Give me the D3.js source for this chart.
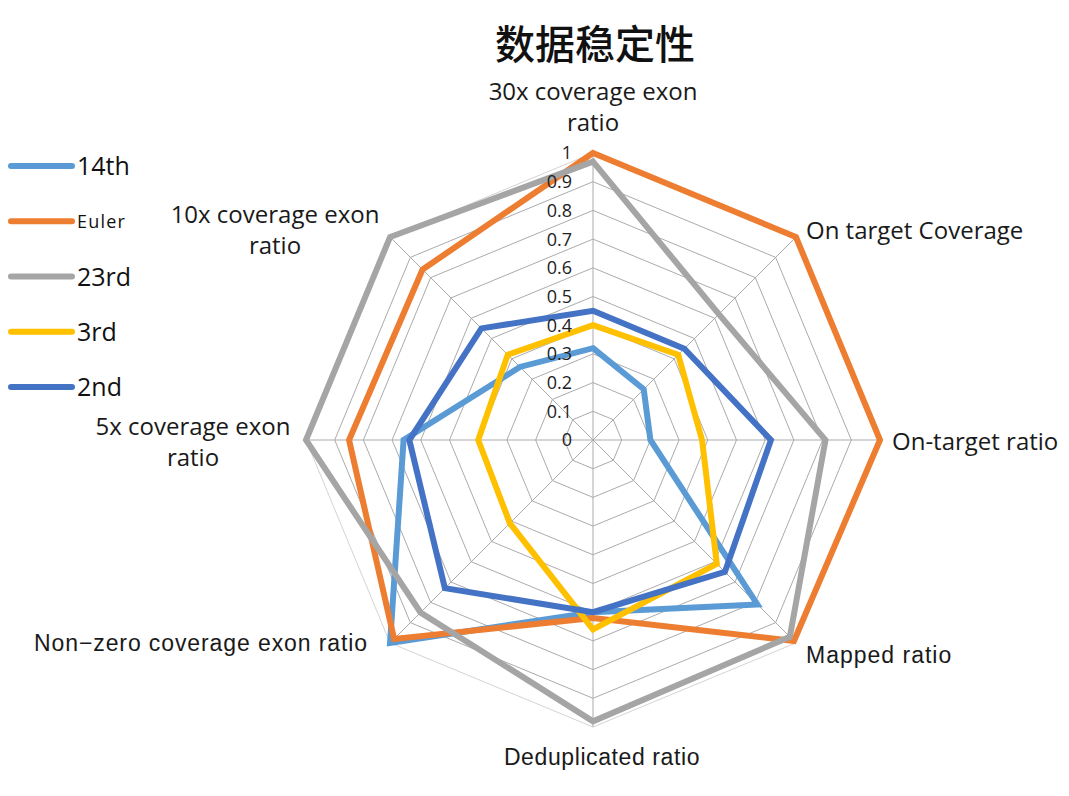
<!DOCTYPE html>
<html><head><meta charset="utf-8">
<script src="https://cdn.jsdelivr.net/npm/d3@7/dist/d3.min.js"></script>
<style>body{margin:0;background:#fff}</style>
</head><body><svg id="c" width="1069" height="796"></svg>
<script>
const axes = ["30x coverage exon ratio","On target Coverage","On-target ratio","Mapped ratio","Deduplicated ratio","Non\u2212zero coverage exon ratio","5x coverage exon ratio","10x coverage exon ratio"];
const seriesNames = ["14th","Euler","23rd","3rd","2nd"];
const colors = ["#5B9BD5","#ED7D31","#A5A5A5","#FFC000","#4472C4"];
const v14th  = [0.32,0.25,0.20,0.81,0.60,1.00,0.66,0.36];
const vEuler = [1.00,1.00,1.00,0.99,0.62,0.98,0.85,0.84];
const v23rd  = [0.97,0.62,0.81,0.97,0.98,0.85,1.00,1.00];
const v3rd   = [0.40,0.42,0.38,0.61,0.66,0.41,0.40,0.42];
const v2nd   = [0.45,0.45,0.62,0.65,0.60,0.73,0.64,0.55];
const values = [v14th,vEuler,v23rd,v3rd,v2nd];
const ticks = [0,0.1,0.2,0.3,0.4,0.5,0.6,0.7,0.8,0.9,1];
const tickLabels = ["0","0.1","0.2","0.3","0.4","0.5","0.6","0.7","0.8","0.9","1"];

const svg = d3.select("#c");
const cx = 593, cy = 440;
const r = d3.scaleLinear().domain([0,1]).range([0,287]);
const ang = d3.scalePoint().domain(d3.range(axes.length+1)).range([0,2*Math.PI]);
const pt = (i,v)=>[cx + r(v)*Math.sin(ang(i)), cy - r(v)*Math.cos(ang(i))];

const g = svg.append("g");
ticks.slice(1).forEach((t)=>{
  g.append("polygon")
    .attr("points", axes.map((a,i)=>pt(i,t).join(",")).join(" "))
    .attr("fill","none")
    .attr("stroke", t===1 ? "#C8C8C8" : "#ABABAB")
    .attr("stroke-width", t===1 ? 0.8 : 1);
});
axes.forEach((a,i)=>{
  const p = pt(i,1);
  g.append("line").attr("x1",cx).attr("y1",cy).attr("x2",p[0]).attr("y2",p[1])
    .attr("stroke","#ABABAB").attr("stroke-width",1);
});
const line = d3.line().curve(d3.curveLinearClosed);
values.forEach((vals,s)=>{
  svg.append("path")
    .attr("d", line(vals.map((v,i)=>pt(i,v))))
    .attr("fill","none").attr("stroke",colors[s]).attr("stroke-width",6)
    .attr("stroke-linejoin","miter");
});
svg.append("g").selectAll("text").data(ticks).join("text")
  .attr("x", cx-21).attr("y", d=>cy - r(d)).attr("dy","0.36em")
  .attr("text-anchor","end")
  .attr("font-family","'Open Sans', sans-serif").attr("font-size",18).attr("fill","#222")
  .text((d,i)=>tickLabels[i]);

const OS = "'Open Sans', sans-serif", AR = "'Liberation Sans', Arial, sans-serif";
const lab = [
  {lines:["30x coverage exon","ratio"], x:593, y:92, anchor:"middle", f:OS, ls:0},
  {lines:["On target Coverage"], x:806, y:231, anchor:"start", f:OS, ls:0},
  {lines:["On-target ratio"], x:892, y:442, anchor:"start", f:OS, ls:0},
  {lines:["Mapped ratio"], x:806, y:655, anchor:"start", f:AR, ls:1},
  {lines:["Deduplicated ratio"], x:602, y:757, anchor:"middle", f:AR, ls:0.6},
  {lines:["Non\u2212zero coverage exon ratio"], x:368, y:643, anchor:"end", f:AR, ls:0.9},
  {lines:["5x coverage exon","ratio"], x:193, y:427, anchor:"middle", f:OS, ls:0},
  {lines:["10x coverage exon","ratio"], x:275, y:215, anchor:"middle", f:OS, ls:0}
];
lab.forEach((L)=>{
  L.lines.forEach((t,j)=>{
    svg.append("text").attr("x",L.x).attr("y",L.y + j*30.5).attr("dy","0.35em")
      .attr("text-anchor",L.anchor).attr("font-family",L.f)
      .attr("font-size", L.f===OS ? 24 : 23).attr("letter-spacing", L.ls)
      .attr("fill","#1a1a1a").text(t);
  });
});

svg.append("text").attr("x",595).attr("y",45).attr("dy","0.36em").attr("text-anchor","middle")
  .attr("font-family","'Noto Sans CJK SC', sans-serif").attr("font-size",40).attr("font-weight",500)
  .attr("fill","#111").text("数据稳定性");

const ly = d3.scalePoint().domain(seriesNames).range([166,387]);
const lg = svg.append("g");
seriesNames.forEach((n,s)=>{
  lg.append("line").attr("x1",11).attr("x2",72).attr("y1",ly(n)).attr("y2",ly(n))
    .attr("stroke",colors[s]).attr("stroke-width",6).attr("stroke-linecap","round");
  lg.append("text").attr("x",77).attr("y",ly(n)).attr("dy","0.36em")
    .attr("font-family",OS).attr("font-size", n==="Euler"?18:25)
    .attr("letter-spacing", n==="Euler"?1.2:0)
    .attr("fill","#111").text(n);
});
</script></body></html>
